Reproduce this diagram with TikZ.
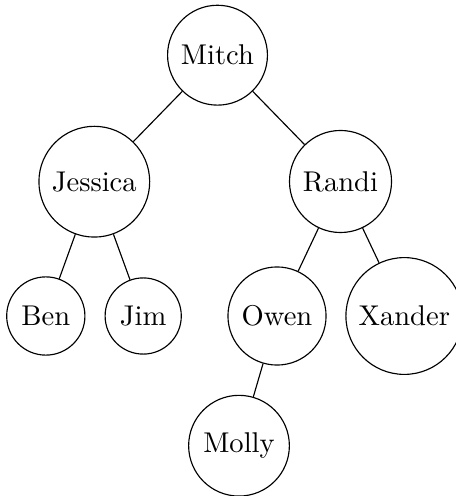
\documentclass[tikz,border=0pt]{standalone}
\begin{document}
\begin{tikzpicture}[x=0.35pt,y=-0.35pt,
  person/.style={circle,draw,line width=0.4pt},
  edge/.style={line width=0.4pt}]
\useasboundingbox (0,0) rectangle (455,496);
\node[person] (mitch)   at (217.5,55.2) {Mitch};
\node[person] (jessica) at (94.3,181.7) {Jessica};
\node[person] (randi)   at (340.5,181.5) {Randi};
\node[person] (ben)     at (45.8,316) {Ben};
\node[person] (jim)     at (143.2,316) {Jim};
\node[person] (owen)    at (277,316) {Owen};
\node[person] (xander)  at (404.3,316) {Xander};
\node[person] (molly)   at (239,445.7) {Molly};
\draw[edge] (mitch) -- (jessica);
\draw[edge] (mitch) -- (randi);
\draw[edge] (jessica) -- (ben);
\draw[edge] (jessica) -- (jim);
\draw[edge] (randi) -- (owen);
\draw[edge] (randi) -- (xander);
\draw[edge] (owen) -- (molly);
\end{tikzpicture}
\end{document}
